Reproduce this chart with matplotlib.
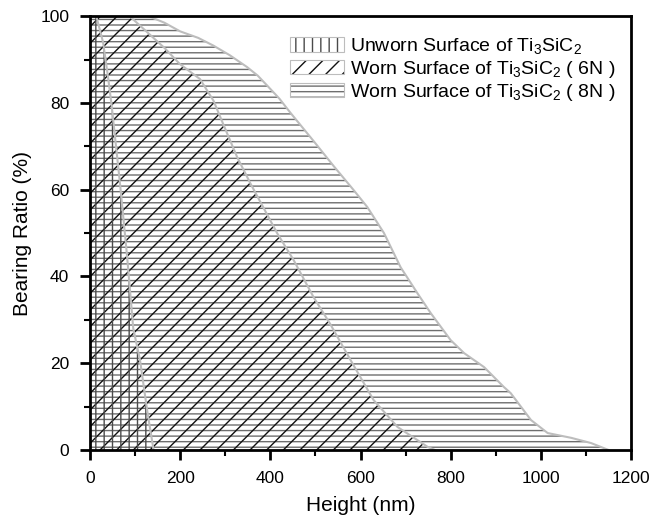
import numpy as np
import matplotlib
matplotlib.use('Agg')
import matplotlib.pyplot as plt
from matplotlib.patches import Patch
from matplotlib.colors import to_rgba
from matplotlib.ticker import MultipleLocator

plt.rcParams['font.family'] = ['Liberation Sans', 'DejaVu Sans']
plt.rcParams['mathtext.default'] = 'regular'
plt.rcParams['hatch.linewidth'] = 1.0

# Bearing ratio (%) vs height (nm)
unworn_ratio = [100, 94, 86, 79.5, 61, 45, 28, 20.7, 9, 0]
unworn_height = [14, 29, 40, 48, 67, 82, 96, 111, 127, 141]

worn6_ratio = [100, 92.6, 89, 85.5, 80.5, 75, 67.6, 61.4, 50, 43.7, 35.2, 29, 20.7, 11.5, 5.3, 0.7, 0]
worn6_height = [88, 166, 199, 244, 274, 296, 326, 356, 415, 452, 496, 533, 578, 629, 682, 749, 765]

worn8_ratio = [100, 98.5, 96.5, 95, 93.2, 91, 88.3, 86.3, 84, 81, 77.8, 74.5, 71.2, 65.5, 60, 56,
               50, 42.1, 36, 31.5, 25.3, 22.3, 19.1, 14.5, 13.1, 6.9, 3.9, 2.8, 1.6, 0]
worn8_height = [130, 165, 200, 240, 274, 310, 348, 372, 393, 420, 444, 470, 496, 540, 584, 615,
                652, 689, 727, 756, 800, 830, 874, 918, 933, 978, 1015, 1067, 1111, 1150]

labels = ['Unworn Surface of Ti$_3$SiC$_2$',
          'Worn Surface of Ti$_3$SiC$_2$ ( 6N )',
          'Worn Surface of Ti$_3$SiC$_2$ ( 8N )']

edge = '#bdbdbd'
series = [
    (worn8_height, worn8_ratio, '---', '#6e6e6e'),
    (worn6_height, worn6_ratio, '//', '#111111'),
    (unworn_height, unworn_ratio, '||', '#4a4a4a'),
]

fig = plt.figure(figsize=(6.65, 5.22), dpi=100)
ax = fig.add_axes([0.1353, 0.138, 0.8137, 0.831])

for h, r, hatch, hc in series:
    ax.fill_betweenx(r, 0, h, facecolor='none', edgecolor=hc, hatch=hatch, linewidth=0)
    ax.plot(h, r, color=edge, lw=1.5)

handles = []
for (h, r, hatch, hc) in series[::-1]:
    p = Patch(facecolor='white', edgecolor=edge, hatch=hatch, linewidth=0.8)
    p._hatch_color = to_rgba(hc)  # dark hatch, light border
    handles.append(p)
ax.legend(handles, labels, loc='upper right', frameon=False, fontsize=14,
          handlelength=2.75, handleheight=0.75, handletextpad=0.35, labelspacing=0.12,
          borderaxespad=0.3, bbox_to_anchor=(0.997, 0.985))

ax.set_xlim(0, 1200)
ax.set_ylim(0, 100)
ax.xaxis.set_major_locator(MultipleLocator(200))
ax.xaxis.set_minor_locator(MultipleLocator(100))
ax.yaxis.set_major_locator(MultipleLocator(20))
ax.yaxis.set_minor_locator(MultipleLocator(10))
ax.tick_params(which='major', direction='out', length=7, width=2, labelsize=12.5, pad=8)
ax.tick_params(which='minor', direction='out', length=4, width=1.5)
for s in ax.spines.values():
    s.set_linewidth(2)

ax.set_xlabel('Height (nm)', fontsize=15, labelpad=7)
ax.set_ylabel('Bearing Ratio (%)', fontsize=15, labelpad=6)

fig.savefig('out.png', dpi=100)
